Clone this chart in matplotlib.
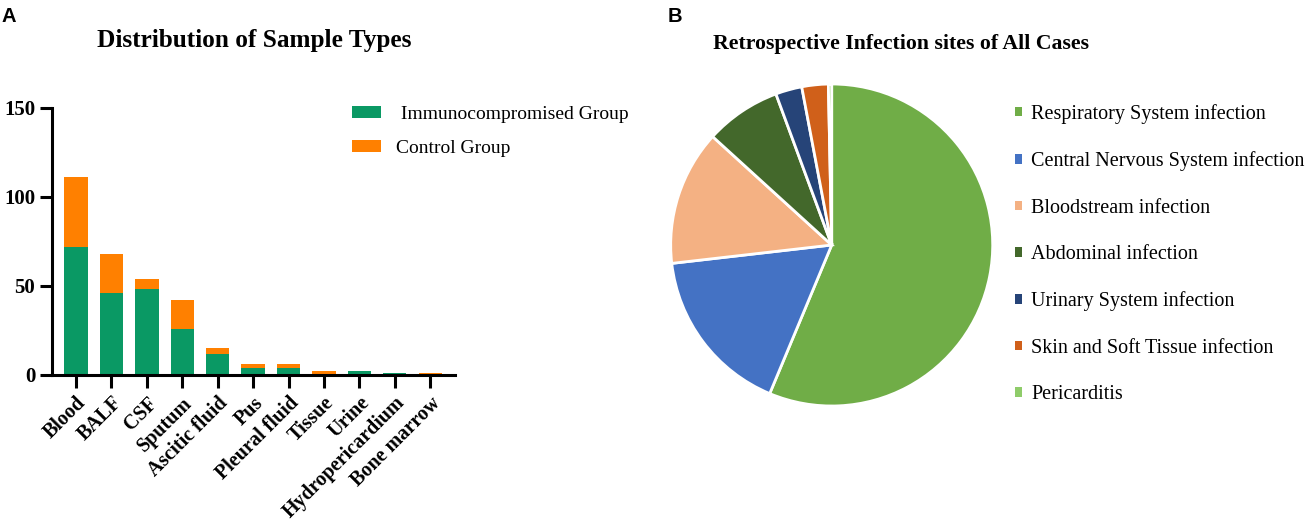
import matplotlib
matplotlib.use("Agg")
import matplotlib.pyplot as plt
from matplotlib.patches import Patch
import numpy as np

# ---------------- data ----------------
sample_types = ["Blood", "BALF", "CSF", "Sputum", "Ascitic fluid", "Pus",
                "Pleural fluid", "Tissue", "Urine", "Hydropericardium", "Bone marrow"]
immuno_counts = [72, 46, 48, 26, 12, 4, 4, 0, 2, 1, 0]
control_counts = [39, 22, 6, 16, 3, 2, 2, 2, 0, 0, 1]
bar_series = [" Immunocompromised Group", "Control Group"]
bar_colors = ["#0a9964", "#ff8000"]
y_ticks = [0, 50, 100, 150]

sites = ["Respiratory System infection", "Central Nervous System infection",
         "Bloodstream infection", "Abdominal infection", "Urinary System infection",
         "Skin and Soft Tissue infection", "Pericarditis"]
site_counts = [170, 51, 41, 23, 8, 8, 1]
site_colors = ["#70ad47", "#4472c4", "#f4b183", "#43682b", "#264478", "#d0601a", "#8fcc6a"]

W, H = 1308, 522
serif = ["Liberation Serif", "DejaVu Serif"]
sans = ["Liberation Sans", "DejaVu Sans"]

fig = plt.figure(figsize=(W / 100, H / 100), dpi=100)

def px_axes(x0, y0, x1, y1):
    return fig.add_axes([x0 / W, (H - y1) / H, (x1 - x0) / W, (y1 - y0) / H])

# ---------------- panel A ----------------
ax = px_axes(52, 107.7, 455, 375)
x = np.arange(len(sample_types))
ax.bar(x, immuno_counts, width=0.66, color=bar_colors[0], label=bar_series[0], zorder=2)
ax.bar(x, control_counts, width=0.66, bottom=immuno_counts, color=bar_colors[1],
       label=bar_series[1], zorder=2)
ax.set_xlim(-0.68, len(sample_types) - 1 + 0.7)
ax.set_ylim(0, 150)
ax.set_yticks(y_ticks)
ax.set_xticks(x)
ax.set_xticklabels(sample_types, rotation=45, ha="right", rotation_mode="anchor",
                   family=serif, fontweight="bold", fontsize=14.5)
for lab in ax.get_yticklabels():
    lab.set_family(serif)
    lab.set_fontweight("bold")
    lab.set_fontsize(15)
for s in ["top", "right"]:
    ax.spines[s].set_visible(False)
for s in ["left", "bottom"]:
    ax.spines[s].set_linewidth(2.2)
    ax.spines[s].set_zorder(3)
ax.tick_params(axis="both", width=2.2, length=9, direction="out", pad=3)
ax.tick_params(axis="x", pad=4)

leg = ax.legend(loc="upper left", bbox_to_anchor=((344 - 52) / (455 - 52), 1.035),
                frameon=False, prop={"family": serif, "size": 14},
                handlelength=1.5, handleheight=0.57, handletextpad=0.8,
                labelspacing=0.85, borderaxespad=0)

fig.text(254 / W, 1 - 40 / H, "Distribution of Sample Types", ha="center", va="center",
         family=serif, fontweight="bold", fontsize=18.2)
fig.text(1 / W, 1 - 17 / H, "A", ha="left", va="center", family=sans,
         fontweight="bold", fontsize=14.5)

# ---------------- panel B ----------------
cx, cy, r = 831.7, 245, 161
pax = px_axes(cx - r, cy - r, cx + r, cy + r)
pax.pie(site_counts, colors=site_colors, startangle=90, counterclock=False,
        wedgeprops={"edgecolor": "white", "linewidth": 2})
pax.set_xlim(-1, 1)
pax.set_ylim(-1, 1)
pax.set_aspect("equal")
pax.axis("off")

handles = [Patch(facecolor=c, edgecolor="none") for c in site_colors]
fig.legend(handles, sites, loc="upper left", bbox_to_anchor=(1007 / W, 1 - 96 / H),
           frameon=False, prop={"family": serif, "size": 14.5},
           handlelength=0.35, handleheight=0.35, handletextpad=0.45,
           labelspacing=1.36, borderaxespad=0)

fig.text(901.5 / W, 1 - 44 / H, "Retrospective Infection sites of All Cases", ha="center",
         va="center", family=serif, fontweight="bold", fontsize=15.7)
fig.text(668 / W, 1 - 17 / H, "B", ha="left", va="center", family=sans,
         fontweight="bold", fontsize=14.5)

fig.savefig("out.png", dpi=100)
